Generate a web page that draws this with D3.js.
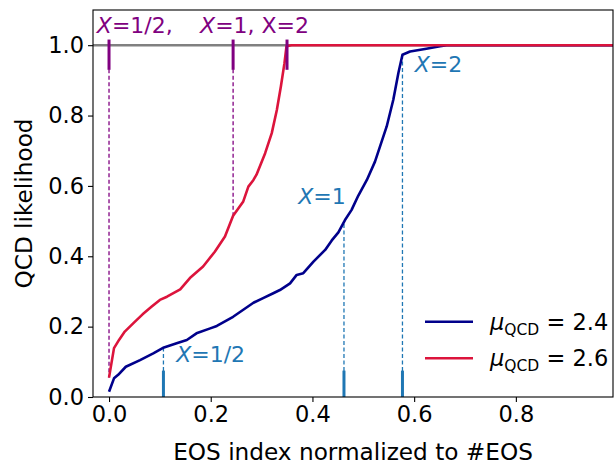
<!DOCTYPE html>
<html>
<head>
<meta charset="utf-8">
<script src="https://cdn.jsdelivr.net/npm/d3@7"></script>
<style>
  html, body { margin: 0; padding: 0; background: #fff; }
  svg { display: block; font-family: "DejaVu Sans", sans-serif; }
</style>
</head>
<body>
<svg id="chart" width="615" height="464"></svg>
<script>
// Normalized EOS index and QCD likelihood for mu_QCD = 2.4
const eosIndex24 = [0, 0.0098, 0.018, 0.033, 0.061, 0.087, 0.108, 0.133, 0.153, 0.172, 0.199, 0.212,
  0.244, 0.264, 0.284, 0.303, 0.323, 0.336, 0.356, 0.369, 0.382, 0.402, 0.425, 0.438, 0.451, 0.464,
  0.477, 0.490, 0.507, 0.523, 0.546, 0.559, 0.569, 0.577, 0.592, 0.624, 0.651, 0.664, 1.0];
const likelihood24 = [0.015, 0.053, 0.063, 0.086, 0.105, 0.124, 0.141, 0.153, 0.162, 0.181, 0.195, 0.202,
  0.228, 0.248, 0.268, 0.281, 0.295, 0.304, 0.323, 0.347, 0.352, 0.385, 0.418, 0.445, 0.468, 0.503,
  0.532, 0.572, 0.617, 0.669, 0.769, 0.845, 0.921, 0.973, 0.982, 0.990, 0.997, 1.0, 1.0];

// Normalized EOS index and QCD likelihood for mu_QCD = 2.6
const eosIndex26 = [0, 0.0098, 0.02, 0.031, 0.048, 0.066, 0.084, 0.1, 0.114, 0.14, 0.159, 0.185, 0.208,
  0.228, 0.244, 0.264, 0.274, 0.284, 0.29, 0.307, 0.32, 0.33, 0.338, 0.345, 0.349, 0.359, 1.0];
const likelihood26 = [0.055, 0.139, 0.163, 0.186, 0.21, 0.235, 0.257, 0.276, 0.285, 0.306, 0.338, 0.371, 0.413,
  0.456, 0.515, 0.556, 0.598, 0.617, 0.632, 0.693, 0.75, 0.816, 0.883, 0.949, 0.997, 1.0, 1.0];

// Positions where X = 1/2, 1, 2 are reached
const markerLabels = ["X=1/2", "X=1", "X=2"];
const markers24 = [0.107, 0.462, 0.577];
const markers26 = [0.0, 0.244, 0.350];

const xTicks = [0, 0.2, 0.4, 0.6, 0.8];
const yTicks = [0, 0.2, 0.4, 0.6, 0.8, 1.0];
const legendLabels = ["2.4", "2.6"];

const colBlue = "#00008b", colRed = "#dc143c", colMark24 = "#1f77b4", colMark26 = "#800080";

const svg = d3.select("#chart");
const L = 93, R = 613, T = 10, B = 397;
const x = d3.scaleLinear().domain([-0.0315, 0.991]).range([L, R]);
const y = d3.scaleLinear().domain([0, 1.1]).range([B, T]);

svg.append("defs").append("clipPath").attr("id", "plotclip")
  .append("rect").attr("x", L).attr("y", T).attr("width", R - L).attr("height", B - T);

const plot = svg.append("g").attr("clip-path", "url(#plotclip)");

// Reference line at likelihood 1
plot.append("line")
  .attr("x1", L).attr("x2", R).attr("y1", y(1)).attr("y2", y(1))
  .attr("stroke", "#808080").attr("stroke-width", 2.6);

const interp = (xs, ys, v) => {
  for (let i = 1; i < xs.length; i++) {
    if (v <= xs[i]) {
      const t = (v - xs[i - 1]) / (xs[i] - xs[i - 1] || 1);
      return ys[i - 1] + t * (ys[i] - ys[i - 1]);
    }
  }
  return ys[ys.length - 1];
};

// Dashed guides from the curves
markers24.forEach(m => {
  plot.append("line")
    .attr("x1", x(m)).attr("x2", x(m)).attr("y1", y(0)).attr("y2", y(interp(eosIndex24, likelihood24, m)))
    .attr("stroke", colMark24).attr("stroke-width", 1.3).attr("stroke-dasharray", "4,2.5");
});
markers26.forEach(m => {
  plot.append("line")
    .attr("x1", x(m)).attr("x2", x(m)).attr("y1", y(0.95)).attr("y2", y(interp(eosIndex26, likelihood26, m)))
    .attr("stroke", colMark26).attr("stroke-width", 1.3).attr("stroke-dasharray", "4,2.5");
});

const line = d3.line().x(d => x(d[0])).y(d => y(d[1]));
plot.append("path").datum(d3.zip(eosIndex24, likelihood24))
  .attr("d", line).attr("fill", "none").attr("stroke", colBlue).attr("stroke-width", 2.6)
  .attr("stroke-linejoin", "round");
plot.append("path").datum(d3.zip(eosIndex26, likelihood26))
  .attr("d", line).attr("fill", "none").attr("stroke", colRed).attr("stroke-width", 2.6)
  .attr("stroke-linejoin", "round");

// Solid markers
markers24.forEach(m => {
  plot.append("line").attr("x1", x(m)).attr("x2", x(m)).attr("y1", y(0)).attr("y2", y(0.075))
    .attr("stroke", colMark24).attr("stroke-width", 3);
});
markers26.forEach(m => {
  plot.append("line").attr("x1", x(m)).attr("x2", x(m)).attr("y1", y(0.93)).attr("y2", y(1.016))
    .attr("stroke", colMark26).attr("stroke-width", 3);
});

// Marker labels
function mathLabel(g, px, py, label, color, anchor) {
  const t = g.append("text").attr("x", px).attr("y", py).attr("fill", color)
    .attr("font-size", 22).attr("text-anchor", anchor || "start");
  t.append("tspan").attr("font-style", "italic").text(label.slice(0, 1));
  t.append("tspan").text(label.slice(1));
  return t;
}
const labels = svg.append("g");
mathLabel(labels, x(0.132), y(0.1), markerLabels[0], colMark24);
mathLabel(labels, x(0.372), y(0.549), markerLabels[1], colMark24);
mathLabel(labels, x(0.601), y(0.925), markerLabels[2], colMark24);
mathLabel(labels, x(-0.024), y(1.036), markerLabels[0] + ",", colMark26);
mathLabel(labels, x(0.179), y(1.036), markerLabels[1] + ", " + markerLabels[2], colMark26);

// Axes
const fmt = d3.format(".1f");
const xAxis = svg.append("g").attr("transform", `translate(0,${B})`)
  .call(d3.axisBottom(x).tickValues(xTicks).tickFormat(fmt).tickSize(5).tickPadding(4));
const yAxis = svg.append("g").attr("transform", `translate(${L},0)`)
  .call(d3.axisLeft(y).tickValues(yTicks).tickFormat(fmt).tickSize(5).tickPadding(4));
[xAxis, yAxis].forEach(a => {
  a.select(".domain").remove();
  a.selectAll(".tick line").attr("stroke", "#000").attr("stroke-width", 1.1);
  a.selectAll(".tick text").attr("font-size", 22.5).attr("font-family", "DejaVu Sans").attr("fill", "#000");
});

svg.append("rect").attr("x", L).attr("y", T).attr("width", R - L).attr("height", B - T)
  .attr("fill", "none").attr("stroke", "#000").attr("stroke-width", 1.1);

svg.append("text").attr("x", (L + R) / 2).attr("y", 460).attr("text-anchor", "middle")
  .attr("font-size", 23.2).text("EOS index normalized to #EOS");
svg.append("text").attr("transform", `translate(32,${(T + B) / 2}) rotate(-90)`)
  .attr("text-anchor", "middle").attr("font-size", 23.2).text("QCD likelihood");

// Legend
const legend = svg.append("g");
[[colBlue, legendLabels[0], 321.7], [colRed, legendLabels[1], 358.3]].forEach(([c, v, ly]) => {
  legend.append("line").attr("x1", 425).attr("x2", 473).attr("y1", ly).attr("y2", ly)
    .attr("stroke", c).attr("stroke-width", 2.6);
  const t = legend.append("text").attr("x", 490).attr("y", ly + 8).attr("font-size", 22.5);
  t.append("tspan").attr("font-style", "italic").text("μ");
  t.append("tspan").attr("font-size", 15.5).attr("dy", 5).text("QCD");
  t.append("tspan").attr("dy", -5).text(" = " + v);
});
</script>
</body>
</html>
